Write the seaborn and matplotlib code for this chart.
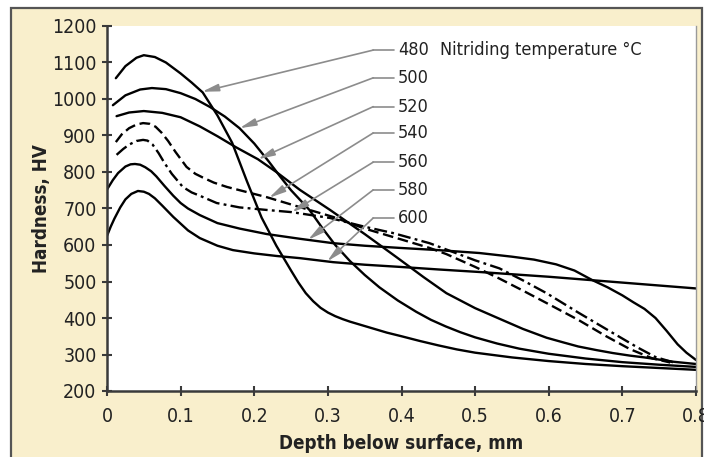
import numpy as np
import pandas as pd
import matplotlib
matplotlib.use("Agg")
import matplotlib.pyplot as plt
from matplotlib.patches import Rectangle
import seaborn as sns

# ---- data ----
temps = ["480", "500", "520", "540", "560", "580", "600"]

d480_x = [0.012, 0.025, 0.04, 0.05, 0.065, 0.08, 0.10, 0.115, 0.13, 0.15, 0.17, 0.19, 0.21, 0.23, 0.25,
          0.26, 0.27, 0.28, 0.29, 0.30, 0.31, 0.32, 0.33, 0.345, 0.36, 0.38, 0.40, 0.425, 0.45, 0.475,
          0.50, 0.55, 0.60, 0.65, 0.70, 0.75, 0.80]
d480_y = [1057, 1090, 1113, 1120, 1115, 1100, 1070, 1045, 1018, 955, 880, 775, 675, 598, 530,
          497, 468, 446, 428, 415, 405, 397, 390, 381, 372, 360, 350, 337, 325, 314,
          305, 292, 282, 274, 268, 263, 258]

d500_x = [0.008, 0.025, 0.045, 0.061, 0.08, 0.10, 0.12, 0.14, 0.16, 0.18, 0.20, 0.22, 0.235, 0.25, 0.275,
          0.293, 0.31, 0.33, 0.35, 0.37, 0.395, 0.42, 0.44, 0.46, 0.48, 0.50, 0.53, 0.56, 0.60, 0.65,
          0.70, 0.75, 0.80]
d500_y = [983, 1010, 1026, 1030, 1027, 1016, 1000, 978, 952, 920, 878, 828, 788, 750, 696,
          645, 600, 556, 518, 484, 448, 417, 395, 377, 361, 347, 330, 316, 302, 289,
          279, 272, 266]

d520_x = [0.013, 0.03, 0.05, 0.075, 0.10, 0.126, 0.15, 0.175, 0.205, 0.23, 0.262, 0.303, 0.35, 0.393,
          0.43, 0.461, 0.50, 0.533, 0.565, 0.597, 0.62, 0.64, 0.665, 0.687, 0.71, 0.73, 0.77, 0.80]
d520_y = [953, 963, 967, 962, 950, 925, 898, 868, 835, 800, 751, 696, 630, 567,
          512, 468, 427, 398, 370, 346, 333, 322, 312, 304, 297, 292, 280, 274]

d540_x = [0.012, 0.02, 0.03, 0.04, 0.049, 0.058, 0.066, 0.074, 0.083, 0.093, 0.108, 0.12, 0.13, 0.145,
          0.163, 0.19, 0.217, 0.26, 0.307, 0.35, 0.40, 0.438, 0.461, 0.50, 0.533, 0.565, 0.597, 0.64,
          0.678, 0.71, 0.74, 0.765]
d540_y = [882, 903, 920, 930, 934, 932, 924, 908, 885, 855, 814, 795, 785, 771,
          759, 745, 731, 705, 677, 645, 615, 592, 575, 540, 508, 475, 441, 395,
          350, 315, 290, 278]

d560_x = [0.013, 0.022, 0.03, 0.04, 0.049, 0.055, 0.062, 0.07, 0.078, 0.088, 0.103, 0.115, 0.126, 0.149,
          0.18, 0.217, 0.251, 0.303, 0.35, 0.388, 0.438, 0.50, 0.533, 0.565, 0.597, 0.64, 0.687, 0.72,
          0.745, 0.77]
d560_y = [847, 863, 875, 885, 888, 886, 875, 852, 825, 795, 759, 744, 735, 715,
          703, 696, 690, 674, 650, 633, 605, 558, 536, 503, 468, 415, 359, 320,
          293, 278]

d580_x = [0.0, 0.008, 0.015, 0.025, 0.032, 0.038, 0.045, 0.052, 0.06, 0.067, 0.078, 0.09, 0.10, 0.11,
          0.126, 0.15, 0.18, 0.217, 0.262, 0.307, 0.35, 0.398, 0.45, 0.506, 0.55, 0.58, 0.61, 0.635,
          0.659, 0.68, 0.70, 0.715, 0.73, 0.745, 0.76, 0.775, 0.787, 0.80]
d580_y = [752, 778, 797, 815, 821, 822, 820, 813, 802, 788, 762, 735, 715, 700,
          682, 660, 645, 630, 617, 605, 598, 592, 586, 578, 568, 560, 547, 530,
          504, 484, 462, 443, 425, 400, 365, 328, 305, 285]

d600_x = [0.0, 0.005, 0.01, 0.018, 0.025, 0.033, 0.042, 0.05, 0.057, 0.065, 0.075, 0.09, 0.11, 0.126,
          0.15, 0.171, 0.20, 0.23, 0.262, 0.307, 0.35, 0.398, 0.45, 0.506, 0.60, 0.70, 0.80]
d600_y = [625, 650, 672, 703, 725, 740, 748, 746, 740, 728, 708, 677, 640, 619,
          598, 586, 577, 570, 564, 553, 546, 540, 533, 526, 513, 497, 481]

arrow_x = [0.129, 0.180, 0.205, 0.22, 0.251, 0.273, 0.299]

x_ticks = [0, 0.1, 0.2, 0.3, 0.4, 0.5, 0.6, 0.7, 0.8]
x_ticklabels = ["0", "0.1", "0.2", "0.3", "0.4", "0.5", "0.6", "0.7", "0.8"]
y_ticks = [200, 300, 400, 500, 600, 700, 800, 900, 1000, 1100, 1200]

series = {
    "480": (d480_x, d480_y), "500": (d500_x, d500_y), "520": (d520_x, d520_y),
    "540": (d540_x, d540_y), "560": (d560_x, d560_y), "580": (d580_x, d580_y),
    "600": (d600_x, d600_y),
}

rows = []
for t in temps:
    xs, ys = series[t]
    for xv, yv in zip(xs, ys):
        rows.append({"depth": xv, "hardness": yv, "temp": t})
df = pd.DataFrame(rows)

# ---- style ----
sns.set_style("white")
plt.rcParams["font.family"] = ["DejaVu Sans"]
plt.rcParams["font.stretch"] = "condensed"

W, H = 704, 457
fig = plt.figure(figsize=(W / 100, H / 100), dpi=100)
fig.patch.set_facecolor("white")
beige = "#f9efcc"
fig.patches.append(Rectangle((11 / W, -0.05), (702 - 11) / W, (H - 8) / H + 0.05,
                             transform=fig.transFigure, facecolor=beige,
                             edgecolor="#555555", lw=1.6, zorder=-10))

ax = fig.add_axes([107 / W, 1 - 391 / H, 589 / W, 365 / H])
ax.set_facecolor("white")

palette = {t: "black" for t in temps}
dashes = {t: "" for t in temps}
dashes["540"] = (4.5, 2)
dashes["560"] = (5.5, 1.8, 1.2, 1.8)

sns.lineplot(data=df, x="depth", y="hardness", hue="temp", style="temp",
             hue_order=temps, style_order=temps, palette=palette, dashes=dashes,
             estimator=None, sort=False, legend=False, linewidth=1.7, ax=ax)

ax.set_xlim(0, 0.8)
ax.set_ylim(200, 1200)
ax.set_xticks(x_ticks)
ax.set_xticklabels(x_ticklabels)
ax.set_yticks(y_ticks)

for side in ["left", "bottom"]:
    ax.spines[side].set_color("#3a3a3a")
    ax.spines[side].set_linewidth(1.8)
ax.spines["right"].set_color("#9a9a9a")
ax.spines["right"].set_linewidth(1.0)
ax.spines["top"].set_visible(False)

ax.tick_params(axis="both", direction="inout", length=7, width=1.5, color="#3a3a3a",
               labelsize=14, labelcolor="#222222")
ax.tick_params(axis="x", pad=8, bottom=True)
ax.tick_params(axis="y", pad=4, left=True)

ax.set_xlabel("Depth below surface, mm", fontsize=13.5, fontweight="bold", color="#222222", labelpad=6)
ax.set_ylabel("Hardness, HV", fontsize=13.5, fontweight="bold", color="#222222", labelpad=1)

# ---- leader labels ----
gray = "#8c8c8c"
label_fy = [0.934, 0.858, 0.779, 0.707, 0.627, 0.551, 0.474]
for t, ax_x, fy in zip(temps, arrow_x, label_fy):
    xs, ys = series[t]
    tip_y = float(np.interp(ax_x, xs, ys))
    ax.annotate("", xy=(ax_x, tip_y), xycoords="data",
                xytext=(0.452, fy), textcoords="axes fraction",
                arrowprops=dict(arrowstyle="-|>,head_length=0.9,head_width=0.2",
                                color=gray, lw=1.2, mutation_scale=11,
                                shrinkA=0, shrinkB=0))
    ax.plot([0.452, 0.487], [fy, fy], transform=ax.transAxes, color=gray, lw=1.2)
    ax.text(0.494, fy, t, transform=ax.transAxes, fontsize=13, va="center", ha="left",
            color="#222222")
ax.text(0.565, label_fy[0], "Nitriding temperature °C", transform=ax.transAxes,
        fontsize=13, va="center", ha="left", color="#222222")

fig.savefig("out.png", dpi=100, facecolor=fig.get_facecolor())
